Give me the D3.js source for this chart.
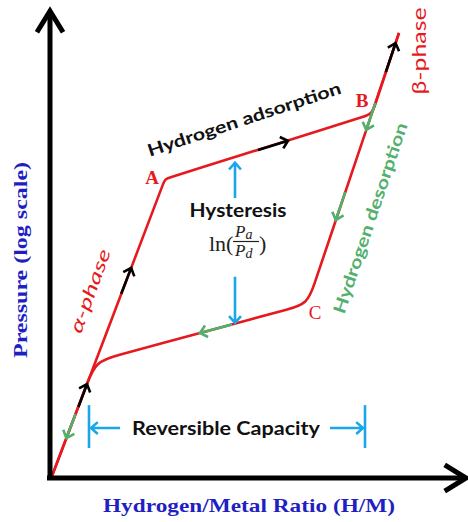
<!DOCTYPE html>
<html>
<head>
<meta charset="utf-8">
<script src="https://cdn.jsdelivr.net/npm/d3@7/dist/d3.min.js"></script>
<style>
  body { margin: 0; background: #fff; }
  svg { display: block; }
</style>
</head>
<body>
<div id="chart"></div>
<script>
// schematic PCT isotherm, values in (H/M ratio, log pressure) units, both 0..1
var adsorption = [[0, 0], [0.2825, 0.675], [0.80, 0.8227], [0.8675, 1.007]];
var desorption = [[0.8675, 1.007], [0.639, 0.391], [0.109, 0.261], [0, 0]];

// direction arrows on the curves: [from, to]
var adsArrows = [
  [[0.066, 0.157], [0.0875, 0.209]],
  [[0.173, 0.414], [0.198, 0.473]],
  [[0.515, 0.741], [0.590, 0.762]],
  [[0.8345, 0.918], [0.859, 0.984]]
];
var desArrows = [
  [[0.8085, 0.848], [0.7855, 0.7864]],
  [[0.733, 0.645], [0.7095, 0.5818]],
  [[0.450, 0.3445], [0.370, 0.325]],
  [[0.059, 0.141], [0.036, 0.086]]
];

// hysteresis gap and reversible capacity markers
var hysteresisX = 0.4575;
var hysteresisUp = [0.632, 0.712];     // from, to
var hysteresisDown = [0.453, 0.348];
var capacityX = [0.0925, 0.7825];
var capacityY = 0.109;
var capacityBar = [0.0636, 0.161];

var xLabel = "Hydrogen/Metal Ratio (H/M)";
var yLabel = "Pressure (log scale)";
var pointLabels = ["A", "B", "C"];

var W = 468, H = 522;
var red = "#e5191e", green = "#52b06c", cyan = "#1ba6ea", blue = "#1f1fc2";

var svg = d3.select("#chart").append("svg")
  .attr("width", W).attr("height", H);

var x = d3.scaleLinear().domain([0, 1]).range([52, 452]);
var y = d3.scaleLinear().domain([0, 1]).range([476, 36]);

// corner rounding (pixels) per vertex
function roundedPts(pts, radii) {
  var p = pts.map(function(d) { return [x(d[0]), y(d[1])]; });
  var out = [p[0]];
  for (var i = 1; i < p.length - 1; i++) {
    var r = radii[i], v = p[i];
    var a = p[i - 1], b = p[i + 1];
    var la = Math.hypot(v[0] - a[0], v[1] - a[1]), lb = Math.hypot(b[0] - v[0], b[1] - v[1]);
    var ua = [(v[0] - a[0]) / la, (v[1] - a[1]) / la], ub = [(b[0] - v[0]) / lb, (b[1] - v[1]) / lb];
    out.push([v[0] - 2 * r * ua[0], v[1] - 2 * r * ua[1]]);
    out.push([v[0] - r * ua[0], v[1] - r * ua[1]]);
    out.push(v);
    out.push([v[0] + r * ub[0], v[1] + r * ub[1]]);
    out.push([v[0] + 2 * r * ub[0], v[1] + 2 * r * ub[1]]);
  }
  out.push(p[p.length - 1]);
  return out;
}

var line = d3.line().curve(d3.curveBasis);

svg.append("path")
  .attr("d", line(roundedPts(adsorption, [0, 6, 11, 0])))
  .attr("fill", "none").attr("stroke", red).attr("stroke-width", 2.6);
svg.append("path")
  .attr("d", line(roundedPts(desorption, [0, 22, 25, 0])))
  .attr("fill", "none").attr("stroke", red).attr("stroke-width", 2.6);

function chevron(tip, from, len, ang) {
  var dx = from[0] - tip[0], dy = from[1] - tip[1];
  var l = Math.hypot(dx, dy); dx /= l; dy /= l;
  var c = Math.cos(ang), s = Math.sin(ang);
  var a1 = [tip[0] + len * (dx * c - dy * s), tip[1] + len * (dx * s + dy * c)];
  var a2 = [tip[0] + len * (dx * c + dy * s), tip[1] + len * (-dx * s + dy * c)];
  return "M" + a1 + "L" + tip + "L" + a2;
}

function drawArrow(g, p0, p1, color, w, len) {
  g.append("path")
    .attr("d", "M" + p0 + "L" + p1 + chevron(p1, p0, len, 0.72))
    .attr("fill", "none").attr("stroke", color).attr("stroke-width", w)
    .attr("stroke-linejoin", "miter").attr("stroke-linecap", "butt");
}

var ga = svg.append("g");
adsArrows.forEach(function(d) {
  drawArrow(ga, [x(d[0][0]), y(d[0][1])], [x(d[1][0]), y(d[1][1])], "#000", 2.6, 9);
});
desArrows.forEach(function(d) {
  drawArrow(ga, [x(d[0][0]), y(d[0][1])], [x(d[1][0]), y(d[1][1])], green, 2.6, 9);
});

// axes
var axis = svg.append("g").attr("fill", "none").attr("stroke", "#000").attr("stroke-width", 5);
axis.append("path").attr("d", "M" + [x(0) - 2, y(0) + 4] + "L" + [x(0) - 2, 13]);
axis.append("path").attr("d", "M" + [x(0) - 5, y(0) + 2] + "L" + [464, y(0) + 2]);
axis.append("path").attr("d", chevron([x(0) - 2, 11], [x(0) - 2, 100], 25, 0.55));
axis.append("path").attr("d", chevron([466, y(0) + 2], [300, y(0) + 2], 25, 0.55));

// hysteresis arrows
drawArrow(ga, [x(hysteresisX), y(hysteresisUp[0])], [x(hysteresisX), y(hysteresisUp[1])], cyan, 2.6, 9);
drawArrow(ga, [x(hysteresisX), y(hysteresisDown[0])], [x(hysteresisX), y(hysteresisDown[1])], cyan, 2.6, 9);

// reversible capacity
capacityX.forEach(function(cx) {
  ga.append("line")
    .attr("x1", x(cx)).attr("x2", x(cx))
    .attr("y1", y(capacityBar[0])).attr("y2", y(capacityBar[1]))
    .attr("stroke", cyan).attr("stroke-width", 2.6);
});
drawArrow(ga, [120, y(capacityY)], [x(capacityX[0]) + 2, y(capacityY)], cyan, 2.6, 9);
drawArrow(ga, [330, y(capacityY)], [x(capacityX[1]) - 2, y(capacityY)], cyan, 2.6, 9);

// text
var sans = "Lato, 'Open Sans', sans-serif";
var serif = "'Liberation Serif', 'Times New Roman', serif";

function txt(t, px, py, opts) {
  var e = svg.append("text")
    .attr("transform", "translate(" + px + "," + py + ")" + (opts.rot ? " rotate(" + opts.rot + ")" : ""))
    .attr("text-anchor", opts.anchor || "middle")
    .attr("font-family", opts.family || sans)
    .attr("font-size", opts.size)
    .attr("font-weight", opts.weight || "normal")
    .attr("font-style", opts.style || "normal")
    .attr("fill", opts.color || "#111")
    .text(t);
  if (opts.len) e.attr("textLength", opts.len).attr("lengthAdjust", "spacingAndGlyphs");
  return e;
}

txt(xLabel, 249, 512, {family: serif, size: 19, weight: "bold", color: blue, len: 292});
txt(yLabel, 27, 260, {family: serif, size: 19, weight: "bold", color: blue, rot: -90, len: 196});

txt("Hydrogen adsorption", 246, 125, {size: 17, weight: "bold", rot: -18.3, len: 203});
txt("Hydrogen desorption", 376, 220, {size: 17, weight: "bold", color: green, rot: -71.5, len: 200});
txt("\u03b2-phase", 426, 51, {size: 19, color: red, rot: -90, len: 87});
txt("\u03b1-phase", 96, 293, {size: 18, style: "italic", color: red, rot: -70, len: 88});

txt(pointLabels[0], 152, 184, {family: serif, size: 19, weight: "bold", color: red});
txt(pointLabels[1], 362, 107, {family: serif, size: 19, weight: "bold", color: red});
txt(pointLabels[2], 315, 319, {family: serif, size: 19, color: red});

txt("Hysteresis", 238, 217, {size: 18, weight: "bold", len: 97});
txt("Reversible Capacity", 226, 435, {size: 19, weight: "bold", len: 188});

// ln(Pa/Pd)
txt("ln(", 209, 251, {family: serif, size: 22, anchor: "start", color: "#222"});
txt(")", 259, 251, {family: serif, size: 22, anchor: "start", color: "#222"});
svg.append("line").attr("x1", 233).attr("x2", 259).attr("y1", 241.5).attr("y2", 241.5)
  .attr("stroke", "#222").attr("stroke-width", 1.2);
var pa = txt("P", 235, 237, {family: serif, size: 17, style: "italic", anchor: "start", color: "#222"});
pa.append("tspan").attr("dy", 2).attr("font-size", 14).text("a");
var pd = txt("P", 235, 256, {family: serif, size: 17, style: "italic", anchor: "start", color: "#222"});
pd.append("tspan").attr("dy", 2).attr("font-size", 14).text("d");
</script>
</body>
</html>
